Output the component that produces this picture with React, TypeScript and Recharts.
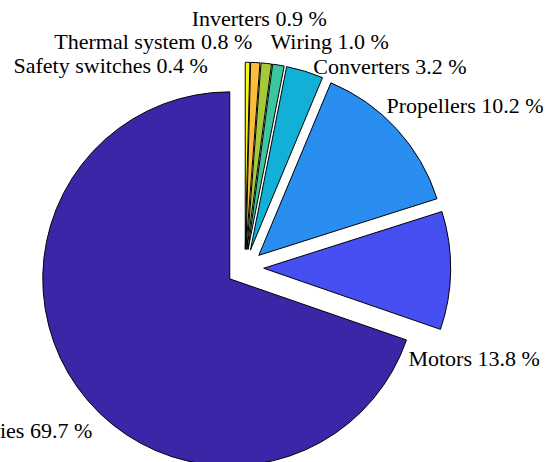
import React from "react";
import { PieChart, Pie, Cell } from "recharts";

/* データ（反時計回り、上から） -------------------------------------- */
const LABELS = [
  "Batteries",
  "Motors",
  "Propellers",
  "Converters",
  "Wiring",
  "Inverters",
  "Thermal system",
  "Safety switches",
];
const LABEL_SHARES = [69.7, 13.8, 10.2, 3.2, 1.0, 0.9, 0.8, 0.4];
// slice sizes as drawn in the figure
const SLICE_VALUES = [69.7, 10.2, 13.8, 3.2, 1.0, 0.9, 0.8, 0.4];

/* 見た目 ------------------------------------------------------------ */
const COLORS = [
  "#3c26a8",
  "#4650f2",
  "#2a8df0",
  "#12afd6",
  "#3cc6a0",
  "#a6c83b",
  "#fbbd3b",
  "#f9f80f",
];
// label nudges (dx, dy) from the default position + text anchor
const LABEL_NUDGE: [number, number, "start" | "middle" | "end"][] = [
  [30, 32, "end"],
  [-61, 88, "start"],
  [-24, -11, "start"],
  [3, 13, "start"],
  [-11, -5, "start"],
  [-9, -26, "middle"],
  [-4, -2, "end"],
  [-40, 22, "end"],
];

const W = 554;
const H = 462;
const CX = 245;
const CY = 268;
const R = 187;
const EXPLODE = 18.7;
const RAD = Math.PI / 180;

const data = SLICE_VALUES.map((value, i) => ({ name: LABELS[i], value }));

export default function App() {
  const total = SLICE_VALUES.reduce((a, b) => a + b, 0);
  let acc = 0;
  const mids = SLICE_VALUES.map((v) => {
    const start = 90 + (acc / total) * 360;
    acc += v;
    const end = 90 + (acc / total) * 360;
    return (start + end) / 2;
  });

  return (
    <div style={{ position: "absolute", left: 0, top: 0, width: W, height: H, background: "#fff" }}>
      <PieChart width={W} height={H} margin={{ top: 0, right: 0, bottom: 0, left: 0 }}>
        {data.map((d, k) => {
          const m = mids[k];
          const cx = CX + EXPLODE * Math.cos(m * RAD);
          const cy = CY - EXPLODE * Math.sin(m * RAD);
          return (
            <Pie
              key={d.name}
              data={data}
              dataKey="value"
              nameKey="name"
              cx={cx}
              cy={cy}
              innerRadius={0}
              outerRadius={R}
              startAngle={90}
              endAngle={450}
              paddingAngle={0}
              isAnimationActive={false}
              labelLine={false}
              label={(p: any) => {
                if (p.index !== k) return null;
                const a = p.midAngle * RAD;
                const rr = R * 1.1;
                const [dx, dy, anchor] = LABEL_NUDGE[k];
                const x = p.cx + rr * Math.cos(-a) + dx;
                const y = p.cy + rr * Math.sin(-a) + dy;
                return (
                  <text
                    x={x}
                    y={y}
                    textAnchor={anchor}
                    dominantBaseline="central"
                    fill="#000"
                    fontFamily="'Liberation Serif', 'DejaVu Serif', serif"
                    fontSize={22}
                  >
                    {`${LABELS[k]} ${LABEL_SHARES[k].toFixed(1)} %`}
                  </text>
                );
              }}
            >
              {data.map((_, i) => (
                <Cell
                  key={i}
                  fill={i === k ? COLORS[i] : "none"}
                  stroke={i === k ? "#000" : "none"}
                  strokeWidth={1}
                />
              ))}
            </Pie>
          );
        })}
      </PieChart>
    </div>
  );
}
